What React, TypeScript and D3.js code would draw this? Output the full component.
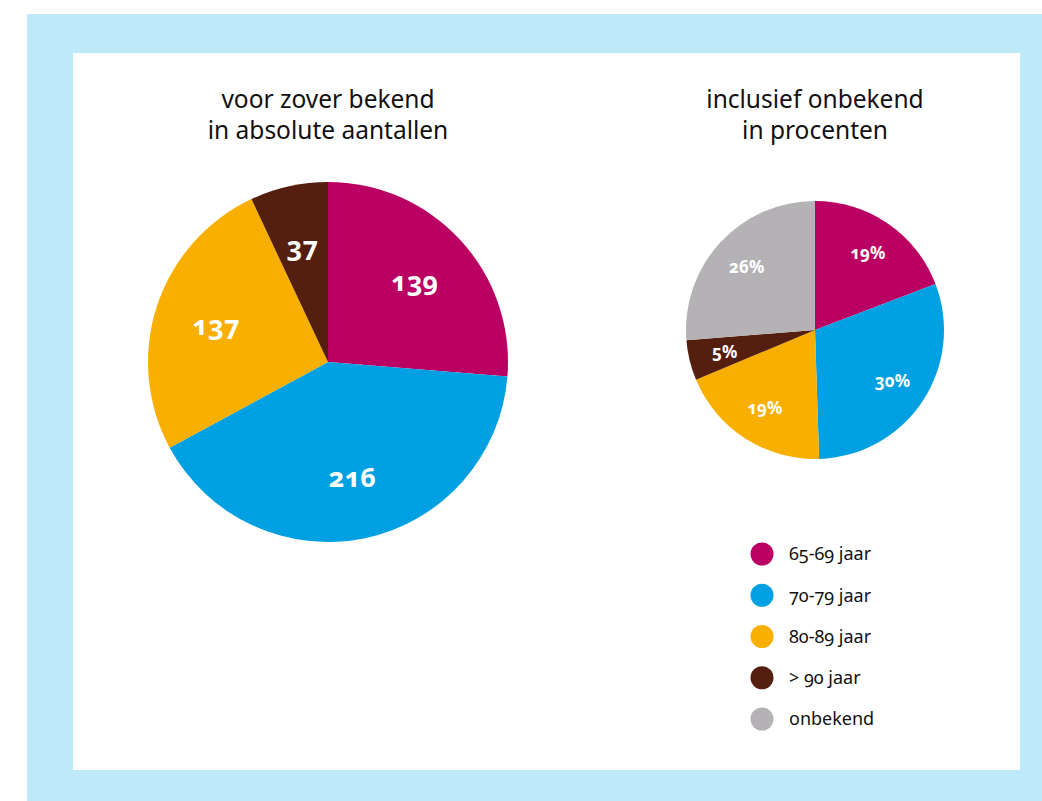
import { useEffect, useRef } from 'react';
import * as d3 from 'd3';

// age groups, in drawing order (clockwise from 12 o'clock)
const CATEGORIES = ['65-69 jaar', '70-79 jaar', '80-89 jaar', '> 90 jaar', 'onbekend'];
const COLORS = ['#BA0063', '#00A0E2', '#F8AF00', '#541F0F', '#B4B2B4'];

// left pie: known cases, absolute counts
const ABSOLUTE = [139, 216, 137, 37];
// right pie: including unknown, percentages
const PERCENT = [19, 30, 19, 5, 26];

const W = 1042;
const H = 801;

export default function App() {
  const svgRef = useRef<SVGSVGElement | null>(null);

  useEffect(() => {
    document.body.style.margin = '0';
    const svg = d3.select(svgRef.current);
    svg.selectAll('*').remove();

    const font = '"Noto Sans", "Open Sans", sans-serif';

    // frame
    svg.append('rect').attr('x', 27).attr('y', 14).attr('width', W - 27).attr('height', H - 14).attr('fill', '#BDE9F8');
    svg.append('rect').attr('x', 73).attr('y', 53).attr('width', 1020 - 73).attr('height', 770 - 53).attr('fill', '#fff');

    const pie = d3.pie<number>().sort(null).value((d) => d);

    function drawPie(values: number[], cx: number, cy: number, r: number, labelR: number,
      fmt: (v: number) => string, fontSize: number) {
      const g = svg.append('g').attr('transform', `translate(${cx},${cy})`);
      const arc = d3.arc<d3.PieArcDatum<number>>().innerRadius(0).outerRadius(r);
      const labelArc = d3.arc<d3.PieArcDatum<number>>().innerRadius(labelR).outerRadius(labelR);
      const arcs = pie(values);
      g.selectAll('path').data(arcs).enter().append('path')
        .attr('d', arc)
        .attr('fill', (_d, i) => COLORS[i]);
      g.selectAll('text').data(arcs).enter().append('text')
        .attr('transform', (d) => `translate(${labelArc.centroid(d)})`)
        .attr('text-anchor', 'middle')
        .attr('dy', '0.35em')
        .attr('fill', '#fff')
        .attr('font-weight', 700)
        .attr('font-size', fontSize)
        .style('font-family', font)
        .style('font-variant-numeric', 'oldstyle-nums')
        .text((d) => fmt(d.data));
    }

    function title(lines: string[], cx: number) {
      lines.forEach((t, i) => {
        svg.append('text')
          .attr('x', cx).attr('y', 108 + i * 31)
          .attr('text-anchor', 'middle')
          .attr('font-size', 24.5)
          .attr('fill', '#111')
          .style('font-family', font)
          .text(t);
      });
    }

    title(['voor zover bekend', 'in absolute aantallen'], 328);
    title(['inclusief onbekend', 'in procenten'], 815);

    drawPie(ABSOLUTE, 328, 362, 180, 118, (v) => String(v), 27);
    drawPie(PERCENT, 815, 330, 129, 93, (v) => `${v}%`, 17);

    // legend
    const legendY = d3.scalePoint<string>().domain(CATEGORIES).range([554, 719]);
    const lg = svg.append('g');
    CATEGORIES.forEach((c, i) => {
      const y = legendY(c) as number;
      lg.append('circle').attr('cx', 762).attr('cy', y).attr('r', 11.5).attr('fill', COLORS[i]);
      lg.append('text')
        .attr('x', 789).attr('y', y).attr('dy', '0.35em')
        .attr('font-size', 18)
        .attr('fill', '#111')
        .style('font-family', font)
        .style('font-variant-numeric', 'oldstyle-nums')
        .text(c);
    });
  }, []);

  return <svg ref={svgRef} width={W} height={H} style={{ display: 'block' }} />;
}
